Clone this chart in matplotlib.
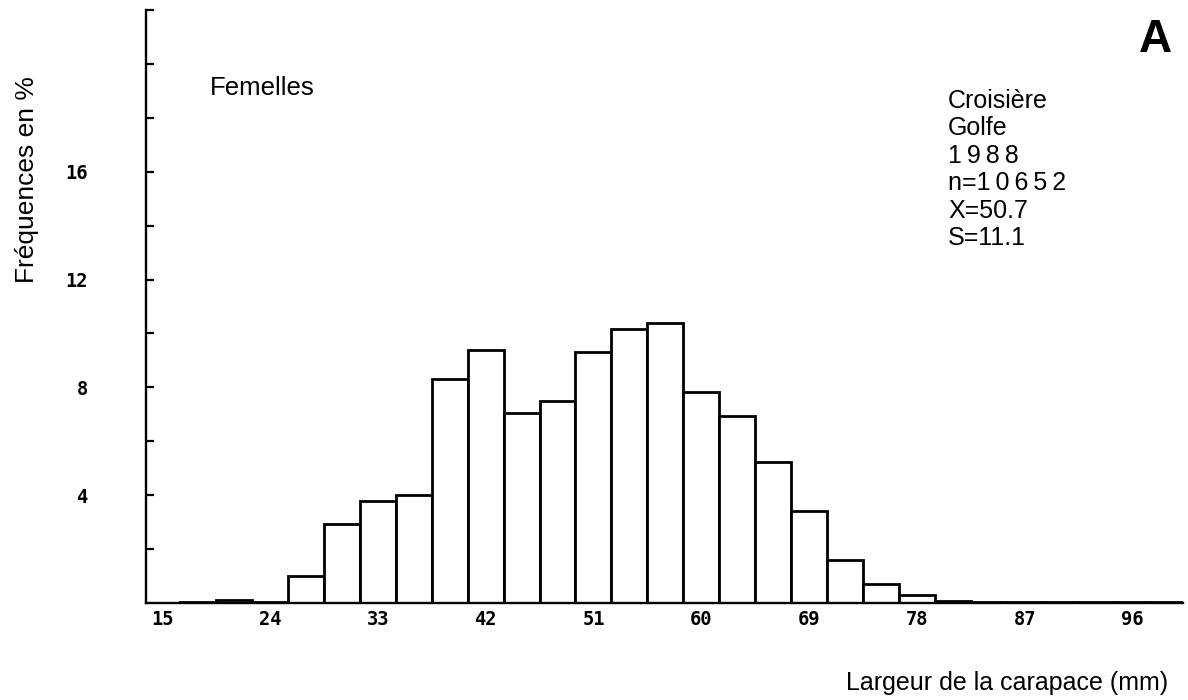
import matplotlib
matplotlib.use('Agg')
import matplotlib.pyplot as plt
import numpy as np

# classes de 3 mm (centres) et frequences en %
largeur = [15, 18, 21, 24, 27, 30, 33, 36, 39, 42, 45, 48, 51, 54, 57,
           60, 63, 66, 69, 72, 75, 78, 81, 84, 87, 90, 93, 96, 99]
freq = [0.01, 0.02, 0.1, 0.05, 1.0, 2.93, 3.78, 4.0, 8.3, 9.4, 7.04, 7.48, 9.3, 10.15, 10.37,
        7.83, 6.93, 5.23, 3.41, 1.59, 0.70, 0.30, 0.08, 0.05, 0.04, 0.03, 0.03, 0.02, 0.02]
xticks = [15, 24, 33, 42, 51, 60, 69, 78, 87, 96]
yticks = list(range(2, 23, 2))
ylabels = ['4', '8', '12', '16']
infos = ['Croisière', 'Golfe', '1\u20099\u20098\u20098', 'n=1\u20090\u20096\u20095\u20092',
         'X=50.7', 'S=11.1']

plt.rcParams['font.family'] = ['Liberation Sans', 'DejaVu Sans']

fig = plt.figure(figsize=(11.88, 7), dpi=100)
ax = fig.add_axes([146 / 1188, 1 - 603 / 700, (1183 - 146) / 1188, (603 - 10) / 700])

ax.bar(largeur, freq, width=3, facecolor='white', edgecolor='black', linewidth=2.0, zorder=2)

ax.set_xlim(13.66, 100.2)
ax.set_ylim(0, 22)

for s in ['top', 'right']:
    ax.spines[s].set_visible(False)
for s in ['left', 'bottom']:
    ax.spines[s].set_linewidth(1.7)
    ax.spines[s].set_zorder(3)

ax.set_xticks(xticks)
ax.set_xticklabels([str(v) for v in xticks], family='DejaVu Sans Mono',
                   fontweight='bold', fontsize=13.5)
ax.tick_params(axis='x', length=0, pad=5)

ax.set_yticks(yticks)
ax.set_yticklabels([str(v) if str(v) in ylabels else '' for v in yticks],
                   family='DejaVu Sans Mono', fontweight='bold', fontsize=13.5)
ax.tick_params(axis='y', direction='in', length=6, width=1.6, pad=42)

fig.text(27 / 1188, 1 - 180 / 700, 'Fréquences en %', rotation=90,
         ha='center', va='center', fontsize=19)
fig.text(1168 / 1188, 1 - 683 / 700, 'Largeur de la carapace (mm)',
         ha='right', va='center', fontsize=18)
fig.text(210 / 1188, 1 - 88 / 700, 'Femelles', ha='left', va='center', fontsize=18.5)

for i, t in enumerate(infos):
    fig.text(948 / 1188, 1 - (101 + 27.4 * i) / 700, t, ha='left', va='center', fontsize=18)

fig.text(1172 / 1188, 1 - 40 / 700, 'A', ha='right', va='center',
         fontsize=33, fontweight='bold')

fig.savefig('out.png', dpi=100, facecolor='white')
